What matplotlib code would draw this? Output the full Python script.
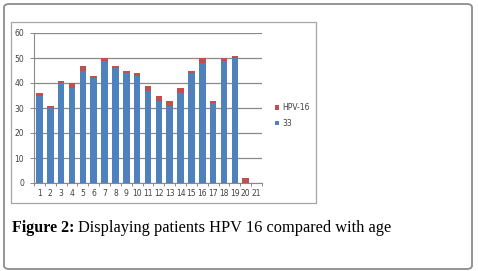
import matplotlib
matplotlib.use("Agg")
import matplotlib.pyplot as plt
from matplotlib.patches import FancyBboxPatch, Rectangle
import numpy as np

# data
ages = list(range(1, 22))
hpv33 = [35, 30, 40, 38, 45, 42, 49, 46, 44, 43, 37, 33, 31, 36, 44, 48, 32, 49, 50, 0, 0]
hpv16 = [1, 1, 1, 2, 2, 1, 1, 1, 1, 1, 2, 2, 2, 2, 1, 2, 1, 1, 1, 2, 0]
y_ticks = [0, 10, 20, 30, 40, 50, 60]

W, H = 478, 271
fig = plt.figure(figsize=(W / 100, H / 100), dpi=100)


def fx(px):
    return px / W


def fy(py):
    return 1 - py / H


# outer rounded box
fig.patches.append(FancyBboxPatch((fx(4), fy(269)), fx(468), (265) / H,
                                  boxstyle="round,pad=0,rounding_size=0.012",
                                  transform=fig.transFigure, fill=False,
                                  edgecolor="#8c8c8c", linewidth=1.3))
# chart frame
fig.patches.append(Rectangle((fx(11), fy(203)), fx(305), 181 / H,
                             transform=fig.transFigure, fill=False,
                             edgecolor="#a6a6a6", linewidth=0.9))

ax = fig.add_axes([fx(34), fy(183), fx(228), 150 / H])
blue = "#4f81bd"
red = "#c0504d"
b1 = ax.bar(ages, hpv33, width=0.6, color=blue, label="33", zorder=3)
b2 = ax.bar(ages, hpv16, width=0.6, bottom=hpv33, color=red, label="HPV-16", zorder=3)

ax.set_xlim(0.5, 21.5)
ax.set_ylim(0, 60)
ax.set_yticks(y_ticks)
ax.set_xticks(ages)
ax.set_xticks(np.arange(0.5, 22, 1), minor=True)
ax.grid(axis="y", color="#8a8a8a", linewidth=0.9, zorder=0)
for s in ["top", "right"]:
    ax.spines[s].set_visible(False)
for s in ["left", "bottom"]:
    ax.spines[s].set_color("#8a8a8a")
    ax.spines[s].set_linewidth(0.8)
ax.tick_params(axis="x", which="major", length=0, labelsize=5.5,
               labelcolor="#404040", pad=4)
ax.tick_params(axis="x", which="minor", length=2.5, color="#8a8a8a", width=0.7)
ax.tick_params(axis="y", length=3, color="#8a8a8a", width=0.7,
               labelsize=5.5, labelcolor="#404040", pad=4)

fig.legend([b2, b1], ["HPV-16", "33"], loc="upper left",
           bbox_to_anchor=(fx(268), fy(96)), frameon=False,
           fontsize=5.5, handlelength=0.6, handleheight=0.6,
           handletextpad=0.4, labelspacing=0.9, labelcolor="#404040")

fig.text(fx(12), fy(232), "Figure 2:", fontsize=11.5, fontweight="bold",
         family="Liberation Serif", va="baseline")
fig.text(fx(78), fy(232), "Displaying patients HPV 16 compared with age",
         fontsize=11.8, family="Liberation Serif", va="baseline")

fig.savefig("out.png", dpi=100)
